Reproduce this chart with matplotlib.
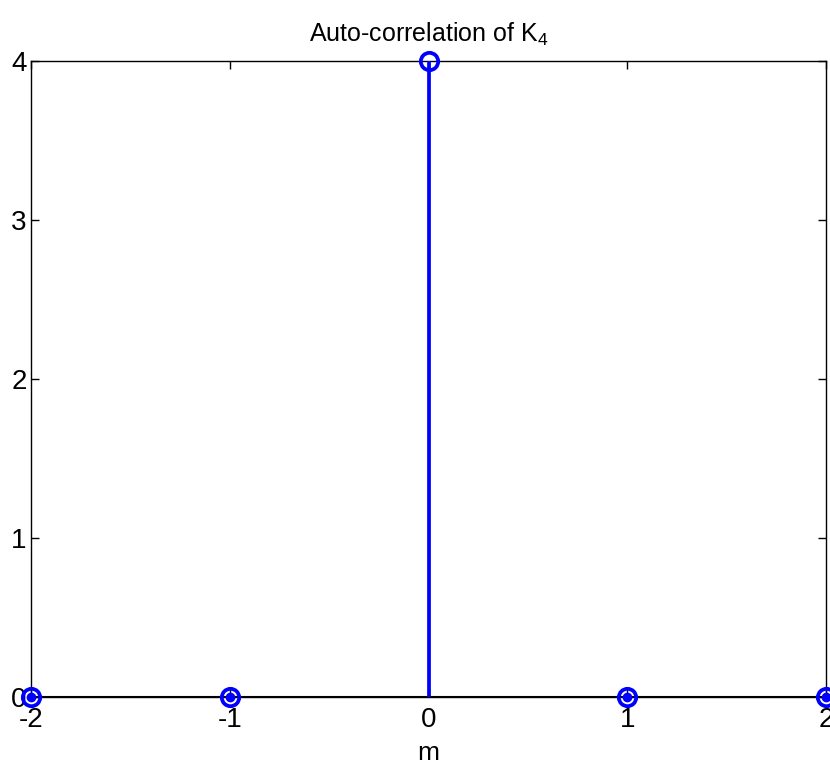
import numpy as np
import matplotlib.pyplot as plt

plt.rcParams['font.family'] = ['Liberation Sans', 'DejaVu Sans']
plt.rcParams['mathtext.default'] = 'regular'
plt.rcParams['axes.unicode_minus'] = False

# autocorrelation of the length-4 sequence
lags = [-2, -1, 0, 1, 2]
r_vals = [0, 0, 4, 0, 0]
x_ticks = [-2, -1, 0, 1, 2]
y_ticks = [0, 1, 2, 3, 4]

fig = plt.figure(figsize=(8.3, 7.66), dpi=100)
ax = fig.add_axes([0.0373, 0.090, 0.958, 0.830])

ax.axhline(0, color='black', linewidth=1.5, zorder=2)
for x, y in zip(lags, r_vals):
    ax.plot([x, x], [0, y], color='blue', linewidth=2.7, zorder=3)
ax.plot(lags, r_vals, linestyle='none', marker='o', markersize=12.5,
        markerfacecolor='none', markeredgecolor='blue', markeredgewidth=2.7,
        clip_on=False, zorder=4)
zero_x = [x for x, y in zip(lags, r_vals) if y == 0]
ax.plot(zero_x, [0] * len(zero_x), linestyle='none', marker='o', markersize=6,
        color='blue', clip_on=False, zorder=4)

ax.set_xlim(-2, 2)
ax.set_ylim(0, 4)
ax.set_xticks(x_ticks)
ax.set_yticks(y_ticks)
ax.tick_params(direction='in', top=True, right=True, length=6, width=1,
               labelsize=20)
ax.tick_params(axis='x', pad=7)
ax.tick_params(axis='y', pad=3)
for s in ax.spines.values():
    s.set_linewidth(1)

ax.set_title('Auto-correlation of K$_4$', fontsize=18, pad=14)
ax.set_xlabel('m', fontsize=19, labelpad=6)

fig.savefig('out.png', dpi=100)
